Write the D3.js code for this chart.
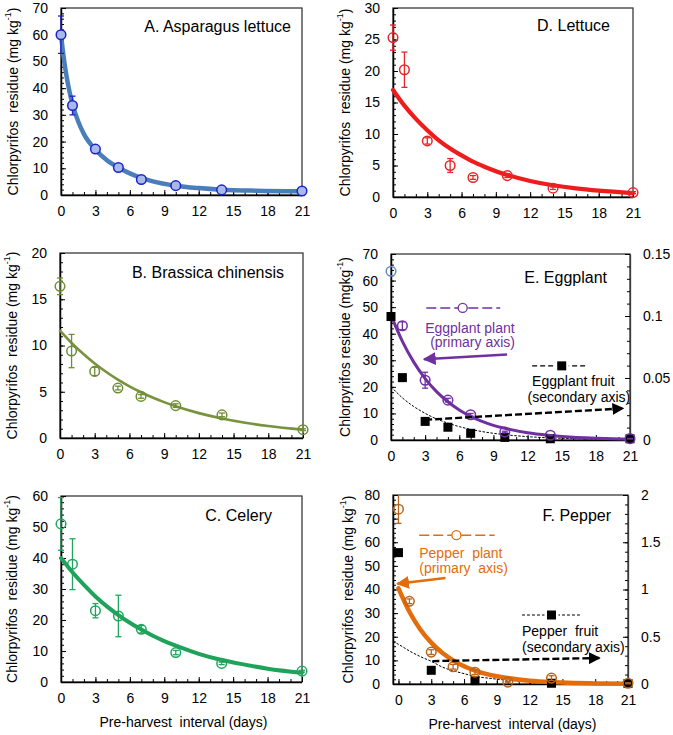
<!DOCTYPE html>
<html><head><meta charset="utf-8">
<script src="https://cdn.jsdelivr.net/npm/d3@7"></script>
<style>
body{margin:0;background:#fff;}
text{font-family:"Liberation Sans",Arial,sans-serif;fill:#000;}
</style>
</head><body>
<svg id="chart" width="673" height="735"></svg>
<script>
// ---------------- DATA ----------------
const days = [0, 1, 3, 5, 7, 10, 14, 21];
const xTickLabels = [0, 3, 6, 9, 12, 15, 18, 21];
const fitDays = [0, 1, 2, 3, 4, 5, 6, 7, 8, 9, 10, 12, 14, 16, 18, 21];

// A. Asparagus lettuce
const asparagusMean = [60, 33.5, 17.2, 10.3, 5.8, 3.5, 1.9, 1.5];
const asparagusErr  = [7, 3.5, 0.8, 0.6, 0.5, 0.3, 0.3, 0.2];
const asparagusFitDays = [0, 0.25, 0.5, 0.75, 1, 1.5, 2, 3, 4, 5, 6, 7, 8, 10, 12, 14, 17, 21];
const asparagusFit = [60, 51, 44, 38.5, 34, 27.5, 22.8, 17, 13, 10.3, 8.1, 6.4, 5.1, 3.5, 2.6, 2.0, 1.6, 1.4];

// B. Brassica chinensis
const brassicaMean = [16.4, 9.4, 7.2, 5.4, 4.5, 3.5, 2.5, 0.9];
const brassicaErr  = [0.9, 1.8, 0.45, 0.2, 0.2, 0.2, 0.2, 0.1];
const brassicaFit  = [11.6, 10.27, 9.1, 8.05, 7.13, 6.31, 5.59, 4.95, 4.38, 3.88, 3.43, 2.69, 2.11, 1.65, 1.3, 0.9];

// C. Celery
const celeryMean = [51, 38, 23, 21.3, 17, 9.5, 6, 3.5];
const celeryErr  = [8.5, 8.2, 2.3, 6.7, 1.2, 0.7, 0.4, 0.3];
const celeryFit  = [40, 35.4, 31.3, 27.6, 24.4, 21.6, 19.1, 16.9, 14.9, 13.2, 11.7, 9.1, 7.1, 5.6, 4.3, 3.0];

// D. Lettuce
const lettuceMean = [25.3, 20.2, 8.9, 5, 3.1, 3.4, 1.4, 0.7];
const lettuceErr  = [2, 2.8, 0.5, 1.1, 0.3, 0.3, 0.2, 0.15];
const lettuceFit  = [17, 14.5, 12.4, 10.6, 9.0, 7.7, 6.6, 5.6, 4.8, 4.1, 3.5, 2.55, 1.86, 1.36, 1.0, 0.62];

// E. Eggplant (plant: primary axis, fruit: secondary axis)
const eggplantPlantMean = [63.5, 43, 22.5, 15, 9.5, 3, 1.8, 0.5];
const eggplantPlantErr  = [0, 1.5, 3, 0.7, 0.5, 0.3, 0.2, 0.1];
const eggplantPlantFit  = [47, 37.1, 29.3, 23.1, 18.2, 14.4, 11.3, 8.9, 7.0, 5.5, 4.4, 2.7, 1.7, 1.0, 0.65, 0.3];
const eggplantFruitMean = [0.0996, 0.0503, 0.015, 0.0103, 0.0054, 0.0021, 0.001, 0.001];
const eggplantFruitFit  = [0.043, 0.034, 0.027, 0.0215, 0.017, 0.0136, 0.0108, 0.0086, 0.0068, 0.0054, 0.0043, 0.0027, 0.0017, 0.0011, 0.0007, 0.0003];

// F. Pepper (plant: primary axis, fruit: secondary axis)
const pepperPlantMean = [74, 35, 13.5, 7.3, 5, 0.8, 2.5, 0.3];
const pepperPlantErr  = [6, 1, 1, 1, 1, 0.3, 1, 0.2];
const pepperPlantFit  = [40.5, 30.6, 23.1, 17.5, 13.2, 10.0, 7.5, 5.7, 4.3, 3.25, 2.5, 1.4, 0.8, 0.46, 0.26, 0.11];
const pepperFruitDays = [0, 3, 7, 14, 21];
const pepperFruitMean = [1.39, 0.145, 0.035, 0.008, 0.005];
const pepperFruitFitDays = [-0.5, 0, 1, 2, 3, 4, 5, 6, 7, 8, 10, 12, 14, 17, 21];
const pepperFruitFit  = [0.45, 0.42, 0.35, 0.29, 0.24, 0.18, 0.14, 0.11, 0.08, 0.065, 0.04, 0.025, 0.015, 0.008, 0.003];

// ---------------- DRAWING ----------------
const svg = d3.select("#chart");
const FONT = 14;
const R_MK = 4.8;

const defs = svg.append("defs");
function arrowMarker(id, color) {
  defs.append("marker").attr("id", id).attr("viewBox", "0 0 10 10")
    .attr("refX", 9).attr("refY", 5).attr("markerWidth", 5).attr("markerHeight", 5)
    .attr("orient", "auto").attr("markerUnits", "strokeWidth")
    .append("path").attr("d", "M0,0 L10,5 L0,10 z").attr("fill", color);
}
arrowMarker("arP", "#7030a0");
arrowMarker("arO", "#e46c0a");
arrowMarker("arK", "#000");

const panels = [
  {title: "A. Asparagus lettuce", box: [61, 8, 302, 195], yMax: 70, yStep: 10, xMin: 0,
   mean: asparagusMean, err: asparagusErr, fx: asparagusFitDays, fit: asparagusFit,
   mk: "#1c22cc", mkFill: "#a8bbe8", line: "#4a7ebb", lw: 4.5, ylx: 13, titleX: 291, titleY: 26,
   ylab: "Chlorpyrifos  residue (mg kg"},
  {title: "B. Brassica chinensis", box: [60, 253, 303, 438], yMax: 20, yStep: 5, xMin: 0,
   mean: brassicaMean, err: brassicaErr, fx: fitDays, fit: brassicaFit,
   mk: "#6f8c37", mkFill: "none", line: "#77933c", lw: 2.6, ylx: 12, titleX: 284, titleY: 272,
   ylab: "Chlorpyrifos  residue (mg kg"},
  {title: "C. Celery", box: [61, 496, 302, 682], yMax: 60, yStep: 10, xMin: 0,
   mean: celeryMean, err: celeryErr, fx: fitDays, fit: celeryFit,
   mk: "#22a35e", mkFill: "none", line: "#1fa35b", lw: 4, ylx: 12, titleX: 272, titleY: 515,
   ylab: "Chlorpyrifos  residue (mg kg", xTitle: true},
  {title: "D. Lettuce", box: [393, 8, 633, 197], yMax: 30, yStep: 5, xMin: 0,
   mean: lettuceMean, err: lettuceErr, fx: fitDays, fit: lettuceFit,
   mk: "#e8262a", mkFill: "none", line: "#ee1c1c", lw: 4.2, ylx: 345, titleX: 610, titleY: 25,
   ylab: "Chlorpyrifos  residue (mg kg"},
  {title: "E. Eggplant", box: [391, 254, 630, 440], yMax: 70, yStep: 10, xMin: 0,
   mean: eggplantPlantMean, err: eggplantPlantErr, fx: fitDays, fit: eggplantPlantFit,
   mk: "#7030a0", firstMk: "#5b8fc9", mkFill: "none", line: "#7030a0", lw: 3, ylx: 345, titleX: 607, titleY: 277,
   ylab: "Chlorpyrifos residue (mgkg",
   y2Max: 0.15, y2Step: 0.05, fruitDays: days, fruitMean: eggplantFruitMean, ffx: fitDays, ffit: eggplantFruitFit},
  {title: "F. Pepper", box: [393, 495, 628, 684], yMax: 80, yStep: 10, xMin: -0.5,
   mean: pepperPlantMean, err: pepperPlantErr, fx: fitDays, fit: pepperPlantFit,
   mk: "#b5651d", mkFill: "none", line: "#e46c0a", lw: 4.5, ylx: 348, titleX: 611, titleY: 515,
   ylab: "Chlorpyrifos  residue (mg kg", xTitle: true,
   y2Max: 2, y2Step: 0.5, fruitDays: pepperFruitDays, fruitMean: pepperFruitMean, ffx: pepperFruitFitDays, ffit: pepperFruitFit}
];

function range(a, b, s) { const r = []; for (let v = a; v <= b + 1e-9; v += s) r.push(+v.toFixed(6)); return r; }

panels.forEach((p, i) => {
  const [L, T, R, B] = p.box;
  const g = svg.append("g");
  const x = d3.scaleLinear().domain([p.xMin, 21]).range([L, R]);
  const y = d3.scaleLinear().domain([0, p.yMax]).range([B, T]);
  p.x = x; p.y = y;

  g.append("rect").attr("x", L).attr("y", T).attr("width", R - L).attr("height", B - T)
    .attr("fill", "none").attr("stroke", "#3a3a3a").attr("stroke-width", 1.3);

  const yMinor = d3.axisLeft(y).tickValues(range(0, p.yMax, p.yStep / 5)).tickSize(-3).tickFormat("").tickSizeOuter(0);
  g.append("g").attr("transform", `translate(${L},0)`).call(yMinor)
    .call(s => s.select(".domain").remove()).selectAll("line").attr("stroke", "#000");
  const xMinor = d3.axisBottom(x).tickValues(range(0, 21, 1)).tickSize(-3).tickFormat("").tickSizeOuter(0);
  g.append("g").attr("transform", `translate(0,${B})`).call(xMinor)
    .call(s => s.select(".domain").remove()).selectAll("line").attr("stroke", "#000");

  const yAx = d3.axisLeft(y).tickValues(range(0, p.yMax, p.yStep)).tickSizeInner(-5).tickSizeOuter(0).tickPadding(13);
  const ga = g.append("g").attr("transform", `translate(${L},0)`).call(yAx);
  ga.select(".domain").attr("stroke", "#000").attr("stroke-width", 1.5);
  ga.selectAll("text").attr("font-size", FONT).attr("font-family", "Liberation Sans, Arial, sans-serif");
  const xAx = d3.axisBottom(x).tickValues(xTickLabels).tickSizeInner(-5).tickSizeOuter(0).tickPadding(11);
  const gx = g.append("g").attr("transform", `translate(0,${B})`).call(xAx);
  gx.select(".domain").attr("stroke", "#000").attr("stroke-width", 1.5).attr("d", `M${L},0.5H${R}`);
  gx.selectAll("text").attr("font-size", FONT).attr("font-family", "Liberation Sans, Arial, sans-serif");

  let y2 = null;
  if (p.y2Max) {
    y2 = d3.scaleLinear().domain([0, p.y2Max]).range([B, T]);
    p.y2 = y2;
    const y2Minor = d3.axisRight(y2).tickValues(range(0, p.y2Max, p.y2Step / 5)).tickSize(-3).tickFormat("").tickSizeOuter(0);
    g.append("g").attr("transform", `translate(${R},0)`).call(y2Minor)
      .call(s => s.select(".domain").remove()).selectAll("line").attr("stroke", "#000");
    const y2Ax = d3.axisRight(y2).tickValues(range(0, p.y2Max, p.y2Step)).tickSizeInner(-5).tickSizeOuter(0).tickPadding(13)
      .tickFormat(d => String(+d.toFixed(3)));
    const g2 = g.append("g").attr("transform", `translate(${R},0)`).call(y2Ax);
    g2.select(".domain").attr("stroke", "#3a3a3a").attr("stroke-width", 1.3);
    g2.selectAll("text").attr("font-size", FONT).attr("font-family", "Liberation Sans, Arial, sans-serif");
  }

  const yl = g.append("text").attr("transform", `translate(${p.ylx},${(T + B) / 2}) rotate(-90)`)
    .attr("text-anchor", "middle").attr("dominant-baseline", "central")
    .attr("font-size", 14).style("white-space", "pre");
  yl.append("tspan").text(p.ylab);
  yl.append("tspan").attr("dy", -5).attr("font-size", 9).text("-1");
  yl.append("tspan").attr("dy", 5).text(")");

  g.append("text").attr("x", p.titleX).attr("y", p.titleY).attr("text-anchor", "end")
    .attr("dominant-baseline", "central").attr("font-size", 16).text(p.title);

  if (p.xTitle) {
    g.append("text").attr("x", (L + R) / 2 + 2).attr("y", B + 40).attr("text-anchor", "middle")
      .attr("dominant-baseline", "central").attr("font-size", 14).style("white-space", "pre")
      .text("Pre-harvest  interval (days)");
  }

  if (y2) {
    const fl = d3.line().x((d, k) => x(p.ffx[k])).y(d => y2(d)).curve(d3.curveMonotoneX);
    g.append("path").attr("d", fl(p.ffit)).attr("fill", "none").attr("stroke", "#000")
      .attr("stroke-width", 1).attr("stroke-dasharray", "2.5,1.5");
  }

  const ln = d3.line().x((d, k) => x(p.fx[k])).y(d => y(d)).curve(d3.curveMonotoneX);
  g.append("path").attr("d", ln(p.fit)).attr("fill", "none").attr("stroke", p.line)
    .attr("stroke-width", p.lw).attr("stroke-linecap", "round");

  if (y2) {
    g.selectAll(null).data(p.fruitMean).enter().append("rect")
      .attr("x", (d, k) => x(p.fruitDays[k]) - 4.5).attr("y", d => y2(d) - 4.5)
      .attr("width", 9).attr("height", 9).attr("fill", "#000");
  }

  const eb = g.append("g");
  p.mean.forEach((m, k) => {
    const e = p.err[k];
    if (!e) return;
    const col = (k === 0 && p.firstMk) ? p.firstMk : p.mk;
    const top = Math.min(m + e, p.yMax), bot = Math.max(m - e, 0);
    const cx = x(days[k]);
    eb.append("line").attr("x1", cx).attr("x2", cx).attr("y1", y(top)).attr("y2", y(bot)).attr("stroke", col).attr("stroke-width", 1.3);
    [top, bot].forEach(v => {
      if (v === p.yMax) return;
      eb.append("line").attr("x1", cx - 3).attr("x2", cx + 3).attr("y1", y(v)).attr("y2", y(v)).attr("stroke", col).attr("stroke-width", 1.3);
    });
  });

  g.selectAll(null).data(p.mean).enter().append("circle")
    .attr("cx", (d, k) => x(days[k])).attr("cy", d => y(d)).attr("r", R_MK)
    .attr("fill", p.mkFill).attr("stroke", (d, k) => (k === 0 && p.firstMk) ? p.firstMk : p.mk)
    .attr("stroke-width", 1.5);
});

// ---------------- ANNOTATIONS (E & F) ----------------
function legendBlock(p, opts) {
  const g = svg.append("g");
  const { x, y } = p;
  g.append("line").attr("x1", x(opts.lx[0])).attr("x2", x(opts.lx[1])).attr("y1", y(opts.ly)).attr("y2", y(opts.ly))
    .attr("stroke", opts.color).attr("stroke-width", opts.lwidth).attr("stroke-dasharray", opts.dash);
  if (opts.square) {
    g.append("rect").attr("x", x(opts.mx) - 4.5).attr("y", y(opts.ly) - 4.5).attr("width", 9).attr("height", 9)
      .attr("fill", "#000").attr("stroke", "#fff").attr("stroke-width", 5).attr("paint-order", "stroke");
  } else {
    g.append("circle").attr("cx", x(opts.mx)).attr("cy", y(opts.ly)).attr("r", 4.5)
      .attr("fill", "#fff").attr("stroke", opts.color).attr("stroke-width", 1.3);
  }
  opts.lines.forEach(t => {
    g.append("text").attr("x", x(t[0])).attr("y", y(t[1])).attr("dominant-baseline", "central")
      .attr("font-size", 14).style("white-space", "pre").style("fill", opts.textColor).text(t[2]);
  });
  g.append("line").attr("x1", x(opts.ar[0])).attr("y1", y(opts.ar[1])).attr("x2", x(opts.ar[2])).attr("y2", y(opts.ar[3]))
    .attr("stroke", opts.arColor).attr("stroke-width", opts.arW).attr("stroke-dasharray", opts.arDash || null)
    .attr("marker-end", `url(#${opts.marker})`);
}

const pE = panels[4], pF = panels[5];
legendBlock(pE, {color: "#7030a0", lwidth: 1.5, dash: "10,4", lx: [3.1, 9.6], ly: 49.7, mx: 6.3,
  textColor: "#7030a0", lines: [[3.0, 42.3, "Eggplant plant"], [3.1, 36.8, " (primary axis)"]],
  ar: [10.2, 32.2, 2.9, 30.4], arColor: "#7030a0", arW: 2.6, marker: "arP"});
legendBlock(pE, {color: "#000", lwidth: 1.2, dash: "5,3", lx: [12.4, 17.3], ly: 27.9, mx: 15.0, square: true,
  textColor: "#000", lines: [[12.4, 22.2, "Eggplant fruit"], [12.0, 16.2, "(secondary axis)"]],
  ar: [3.0, 7.6, 20.4, 11.9], arColor: "#000", arW: 2.4, arDash: "7,3", marker: "arK"});
legendBlock(pF, {color: "#e46c0a", lwidth: 1.5, dash: "10,4", lx: [1.9, 8.8], ly: 63, mx: 5.3,
  textColor: "#e46c0a", lines: [[1.9, 55.4, "Pepper  plant"], [1.9, 49.1, "(primary  axis)"]],
  ar: [4.3, 44.9, -0.1, 42.4], arColor: "#e46c0a", arW: 2.6, marker: "arO"});
legendBlock(pF, {color: "#000", lwidth: 1.2, dash: "3,2", lx: [11.3, 16.6], ly: 29.2, mx: 14.0, square: true,
  textColor: "#000", lines: [[11.3, 22.4, "Pepper  fruit"], [11.3, 15.7, "(secondary axis)"]],
  ar: [3.1, 9.7, 18.4, 11.0], arColor: "#000", arW: 2.4, arDash: "7,3", marker: "arK"});
</script>
</body></html>
